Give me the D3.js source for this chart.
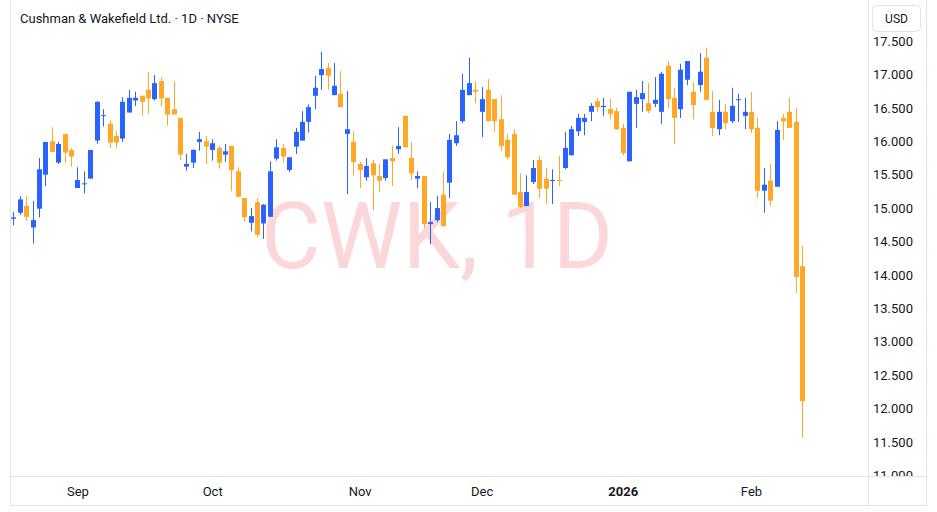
<!DOCTYPE html>
<html>
<head>
<meta charset="utf-8">
<script src="https://cdn.jsdelivr.net/npm/d3@7"></script>
<style>
  html, body { margin: 0; padding: 0; background: #ffffff; }
  svg { display: block; font-family: Roboto, "Noto Sans", sans-serif; }
</style>
</head>
<body>
<svg id="chart" width="937" height="512"></svg>
<script>
// ---- Data (CWK, daily, 2025-08-18 .. 2026-02-12) ----
const openV = [14.84,14.93,15.03,14.71,14.99,15.50,16.00,15.68,16.11,15.87,
  15.30,15.36,15.44,16.01,16.38,16.26,16.08,16.04,16.43,16.61,
  16.68,16.77,16.63,16.90,16.65,16.48,16.35,15.62,15.68,15.99,
  16.00,15.87,15.90,15.80,15.93,15.55,15.15,14.78,15.09,14.77,
  14.87,15.74,15.90,15.57,15.92,16.01,16.29,16.68,16.99,17.10,
  16.69,16.71,16.11,15.99,15.66,15.46,15.67,15.48,15.45,15.75,
  15.88,16.38,15.75,15.44,15.48,14.76,14.82,15.20,15.38,15.97,
  16.30,16.69,16.77,16.44,16.77,16.63,16.33,16.02,16.11,15.24,
  15.03,15.39,15.72,15.44,15.41,15.42,15.60,15.79,16.15,16.29,
  16.44,16.60,16.51,16.48,16.45,16.20,15.70,16.56,16.63,16.57,
  16.56,16.44,17.13,16.65,16.48,16.92,16.74,16.84,17.25,16.44,
  16.18,16.44,16.30,16.62,16.38,16.44,16.20,15.26,15.41,15.32,
  16.35,16.44,16.29,14.13];
const highV = [14.94,15.18,15.18,15.11,15.75,15.99,16.21,15.99,16.11,15.90,
  15.61,15.55,15.87,16.60,16.48,16.32,16.15,16.66,16.77,16.74,
  16.68,17.04,16.99,16.96,16.65,16.90,16.35,15.81,15.88,16.14,
  16.08,16.03,15.93,15.96,15.93,15.61,15.15,15.00,15.15,15.06,
  15.70,16.03,15.96,15.76,16.20,16.45,16.55,16.98,17.34,17.17,
  17.17,17.05,16.75,16.15,15.69,15.75,15.72,15.66,15.73,15.93,
  16.21,16.38,15.99,15.55,15.48,15.09,15.18,15.55,16.11,16.30,
  17.01,17.25,16.90,16.81,16.93,16.63,16.69,16.11,16.18,15.52,
  15.49,15.72,15.78,15.60,15.58,15.78,16.14,16.23,16.41,16.41,
  16.57,16.65,16.65,16.63,16.50,16.26,16.74,16.77,16.90,16.87,
  16.96,17.04,17.20,16.80,17.16,17.20,16.89,17.32,17.40,16.75,
  16.62,16.56,16.80,16.71,16.65,16.74,16.35,15.60,15.66,16.30,
  16.41,16.65,16.50,14.43];
const lowV = [14.74,14.90,14.81,14.47,14.86,15.33,15.84,15.66,15.68,15.62,
  15.30,15.22,15.44,15.96,16.22,15.90,15.89,15.99,16.43,16.53,
  16.38,16.41,16.61,16.52,16.23,16.40,15.72,15.56,15.60,15.86,
  15.66,15.71,15.59,15.69,15.25,15.16,14.80,14.65,14.56,14.54,
  14.87,15.71,15.68,15.54,15.81,16.01,16.13,16.48,16.77,16.77,
  16.69,16.51,15.21,15.49,15.30,15.41,14.97,15.24,15.41,15.33,
  15.81,15.91,15.42,15.30,14.70,14.46,14.79,14.72,15.15,15.93,
  16.27,16.69,16.57,16.06,16.30,16.14,15.85,15.73,15.20,15.00,
  15.03,15.36,15.15,15.06,15.06,15.33,15.58,15.79,16.08,16.09,
  16.30,16.44,16.38,16.33,16.17,15.79,15.70,16.20,16.44,16.42,
  16.51,16.26,16.50,15.96,16.35,16.84,16.33,16.74,16.62,16.08,
  16.09,16.18,16.27,16.29,16.18,16.12,15.15,14.93,15.03,15.32,
  16.02,16.20,13.73,11.57];
const closeV = [14.86,15.13,14.87,14.82,15.58,15.99,15.84,15.96,15.83,15.77,
  15.42,15.37,15.87,16.59,16.39,15.98,15.98,16.59,16.65,16.65,
  16.59,16.64,16.87,16.64,16.40,16.40,15.80,15.66,15.87,16.03,
  15.92,15.97,15.68,15.85,15.57,15.17,14.86,14.88,14.60,15.05,
  15.55,15.91,15.77,15.76,16.14,16.29,16.51,16.80,17.08,16.98,
  16.83,16.51,16.18,15.69,15.57,15.63,15.49,15.41,15.73,15.70,
  15.93,15.91,15.52,15.48,14.76,14.79,15.00,14.73,16.02,16.09,
  16.77,16.87,16.74,16.63,16.30,16.30,15.93,15.76,15.20,15.02,
  15.24,15.60,15.29,15.29,15.42,15.41,15.90,16.18,16.35,16.35,
  16.53,16.51,16.53,16.41,16.18,15.82,16.74,16.66,16.72,16.45,
  16.62,17.01,16.63,16.35,17.07,17.20,16.54,17.04,16.62,16.20,
  16.44,16.27,16.53,16.63,16.44,16.18,15.26,15.35,15.11,16.17,
  16.30,16.20,13.97,12.11];

// trading calendar
const startDate = "2025-08-18";
const endDate = "2026-02-12";
const holidays = ["2025-09-01","2025-11-27","2025-12-25","2026-01-01","2026-01-19"];
const priceTicks = [17.5,17.0,16.5,16.0,15.5,15.0,14.5,14.0,13.5,13.0,12.5,12.0,11.5,11.0];
const titleText = "Cushman & Wakefield Ltd. \u00b7 1D \u00b7 NYSE";
const watermarkText = "CWK, 1D";
const currencyText = "USD";

// ---- build dates ----
const fmtDay = d3.timeFormat("%Y-%m-%d");
const parseDay = d3.timeParse("%Y-%m-%d");
const dates = d3.timeDay.range(parseDay(startDate), d3.timeDay.offset(parseDay(endDate), 1))
  .filter(d => d.getDay() !== 0 && d.getDay() !== 6 && !holidays.includes(fmtDay(d)));

const data = dates.map((d, i) => ({date: d, o: openV[i], h: highV[i], l: lowV[i], c: closeV[i]}));

// ---- layout ----
const W = 937, H = 512;
const plotL = 11, plotR = 868, plotT = 0, plotB = 476;
const UP = "#2962ff", DOWN = "#ffa726", BORDER = "#e0e3eb", TEXT = "#131722";

const svg = d3.select("#chart");

const x = d3.scaleLinear().domain([0, data.length - 1]).range([13.3, 802.3]);
const y = d3.scaleLinear().domain([11.5, 17.5]).range([442, 41]);

const defs = svg.append("defs");
defs.append("clipPath").attr("id", "plotClip")
  .append("rect").attr("x", plotL).attr("y", plotT).attr("width", plotR - plotL).attr("height", plotB - plotT);
defs.append("clipPath").attr("id", "axisClip")
  .append("rect").attr("x", plotR).attr("y", 33).attr("width", W - plotR).attr("height", plotB - 33);

// frame
svg.append("rect").attr("x", 10.5).attr("y", -1).attr("width", 916).attr("height", 506.5)
  .attr("fill", "#ffffff").attr("stroke", BORDER).attr("stroke-width", 1);
svg.append("line").attr("x1", 10).attr("x2", 927).attr("y1", plotB + 0.5).attr("y2", plotB + 0.5)
  .attr("stroke", BORDER);
svg.append("line").attr("x1", plotR + 0.5).attr("x2", plotR + 0.5).attr("y1", 0).attr("y2", 506)
  .attr("stroke", BORDER);

// watermark
svg.append("text")
  .attr("x", 437).attr("y", 268)
  .attr("text-anchor", "middle")
  .attr("font-size", 92)
  .attr("fill", "rgba(242,54,69,0.2)")
  .text(watermarkText);

// candles
const g = svg.append("g").attr("clip-path", "url(#plotClip)");
const cand = g.selectAll("g.c").data(data).join("g").attr("class", "c");
cand.append("rect")
  .attr("x", (d, i) => Math.round(x(i)))
  .attr("width", 1)
  .attr("y", d => y(d.h))
  .attr("height", d => Math.max(1, y(d.l) - y(d.h)))
  .attr("fill", d => d.c >= d.o ? UP : DOWN);
cand.append("rect")
  .attr("x", (d, i) => Math.round(x(i)) - 2)
  .attr("width", 5)
  .attr("y", d => y(Math.max(d.o, d.c)))
  .attr("height", d => Math.max(1, Math.abs(y(d.o) - y(d.c))))
  .attr("fill", d => d.c >= d.o ? UP : DOWN);

// title
svg.append("text").attr("x", 20).attr("y", 22.5)
  .attr("font-size", 13).attr("fill", TEXT).text(titleText);

// price axis
const yAxis = d3.axisRight(y).tickValues(priceTicks).tickSize(0).tickPadding(0)
  .tickFormat(d3.format(".3f"));
const yaWrap = svg.append("g").attr("clip-path", "url(#axisClip)");
const ya = yaWrap.append("g").attr("transform", `translate(${plotR + 5},0)`).call(yAxis);
ya.select(".domain").remove();
ya.selectAll("text").attr("font-size", 13).attr("fill", TEXT)
  .attr("font-family", "Roboto, sans-serif");

// USD box
svg.append("rect").attr("x", 872.5).attr("y", 5.5).attr("width", 48).attr("height", 26).attr("rx", 4)
  .attr("fill", "#ffffff").attr("stroke", BORDER);
svg.append("text").attr("x", 896.5).attr("y", 22.5).attr("text-anchor", "middle")
  .attr("font-size", 12).attr("fill", TEXT).text(currencyText);

// time axis: first trading day of each month
const monthStarts = data.map((d, i) => i).filter(i => i > 0 && data[i].date.getMonth() !== data[i - 1].date.getMonth());
const fmtMonth = d => d.getMonth() === 0 ? d3.timeFormat("%Y")(d) : d3.timeFormat("%b")(d);
const xAxis = d3.axisBottom(x).tickValues(monthStarts).tickSize(0).tickPadding(0)
  .tickFormat(i => fmtMonth(data[i].date));
const xa = svg.append("g").attr("transform", `translate(0,${plotB + 11})`).call(xAxis);
xa.select(".domain").remove();
xa.selectAll("text").attr("font-size", 13).attr("fill", TEXT)
  .attr("font-family", "Roboto, sans-serif")
  .attr("font-weight", i => data[i].date.getMonth() === 0 ? 700 : 400);
</script>
</body>
</html>
